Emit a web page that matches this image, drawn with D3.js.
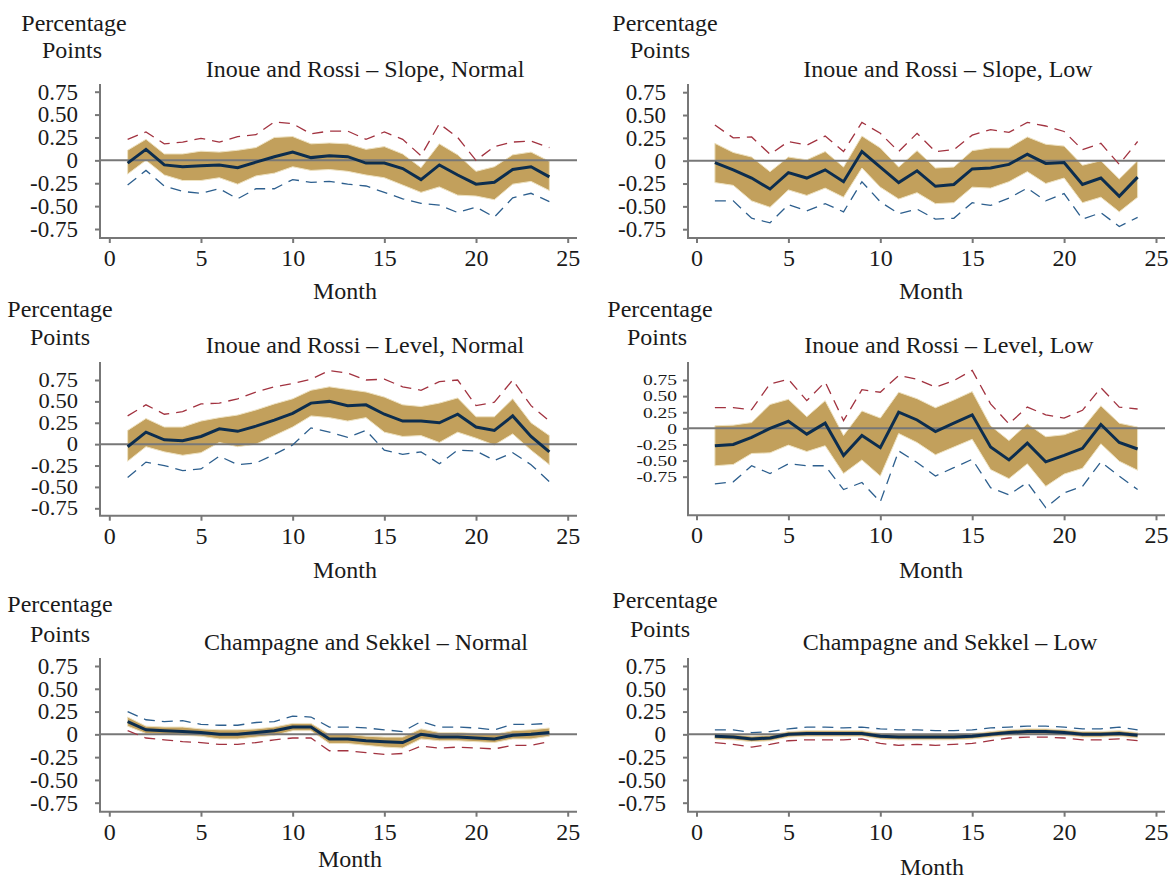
<!DOCTYPE html>
<html>
<head>
<meta charset="utf-8">
<script src="https://cdn.jsdelivr.net/npm/d3@7"></script>
<style>
  body { margin: 0; background: #fff; }
  text { font-family: "Liberation Serif", "Times New Roman", serif; fill: #1a1a1a; }
</style>
</head>
<body>
<div id="chart-area"></div>
<script>
// months on the x axis
var months = [1,2,3,4,5,6,7,8,9,10,11,12,13,14,15,16,17,18,19,20,21,22,23,24];

var xTicks = [0, 5, 10, 15, 20, 25];
var yTicks = [-0.75, -0.5, -0.25, 0, 0.25, 0.5, 0.75];
var yTickLabels = ["-0.75", "-0.50", "-0.25", "0", "0.25", "0.50", "0.75"];

var titles = [
  "Inoue and Rossi \u2013 Slope, Normal",
  "Inoue and Rossi \u2013 Slope, Low",
  "Inoue and Rossi \u2013 Level, Normal",
  "Inoue and Rossi \u2013 Level, Low",
  "Champagne and Sekkel \u2013 Normal",
  "Champagne and Sekkel \u2013 Low"
];

// Inoue and Rossi - Slope, Normal
var slopeNormalMid    = [-0.03,0.12,-0.05,-0.07,-0.06,-0.05,-0.08,-0.02,0.04,0.09,0.03,0.05,0.04,-0.03,-0.03,-0.09,-0.21,-0.05,-0.16,-0.26,-0.24,-0.10,-0.07,-0.18];
var slopeNormalBandHi = [0.11,0.23,0.07,0.07,0.10,0.09,0.11,0.14,0.25,0.26,0.18,0.19,0.18,0.12,0.15,0.07,-0.08,0.18,0.06,-0.12,-0.07,0.06,0.09,-0.01];
var slopeNormalBandLo = [-0.15,0.0,-0.16,-0.22,-0.22,-0.19,-0.26,-0.17,-0.14,-0.07,-0.11,-0.10,-0.12,-0.16,-0.19,-0.27,-0.35,-0.29,-0.38,-0.39,-0.43,-0.26,-0.23,-0.33];
var slopeNormalRed    = [0.23,0.31,0.18,0.20,0.24,0.20,0.26,0.28,0.42,0.40,0.29,0.32,0.32,0.23,0.31,0.23,0.05,0.40,0.25,0.0,0.15,0.20,0.21,0.14];
var slopeNormalBlue   = [-0.27,-0.11,-0.28,-0.34,-0.36,-0.31,-0.42,-0.31,-0.31,-0.21,-0.24,-0.23,-0.26,-0.28,-0.35,-0.42,-0.47,-0.49,-0.57,-0.51,-0.62,-0.41,-0.36,-0.45];

// Inoue and Rossi - Slope, Low
var slopeLowMid    = [-0.02,-0.10,-0.19,-0.31,-0.13,-0.19,-0.10,-0.23,0.10,-0.07,-0.24,-0.11,-0.28,-0.26,-0.09,-0.08,-0.04,0.07,-0.03,-0.02,-0.26,-0.19,-0.39,-0.18];
var slopeLowBandHi = [0.19,0.09,0.04,-0.12,0.04,0.01,0.10,-0.07,0.27,0.14,-0.07,0.11,-0.08,-0.07,0.11,0.14,0.14,0.26,0.18,0.16,-0.05,0.0,-0.20,0.0];
var slopeLowBandLo = [-0.24,-0.27,-0.44,-0.51,-0.32,-0.38,-0.30,-0.40,-0.08,-0.29,-0.42,-0.35,-0.47,-0.46,-0.29,-0.30,-0.23,-0.12,-0.25,-0.19,-0.46,-0.40,-0.56,-0.40];
var slopeLowRed    = [0.39,0.25,0.26,0.07,0.21,0.17,0.27,0.10,0.42,0.30,0.10,0.30,0.10,0.12,0.28,0.34,0.31,0.42,0.38,0.32,0.12,0.19,-0.04,0.21];
var slopeLowBlue   = [-0.44,-0.44,-0.63,-0.68,-0.48,-0.55,-0.47,-0.56,-0.23,-0.45,-0.58,-0.53,-0.64,-0.63,-0.46,-0.49,-0.41,-0.30,-0.44,-0.36,-0.64,-0.57,-0.72,-0.62];

// Inoue and Rossi - Level, Normal
var levelNormalMid    = [-0.03,0.14,0.05,0.04,0.09,0.18,0.15,0.21,0.28,0.36,0.48,0.50,0.45,0.46,0.35,0.27,0.27,0.25,0.35,0.20,0.16,0.33,0.09,-0.09];
var levelNormalBandHi = [0.16,0.30,0.20,0.20,0.27,0.31,0.34,0.40,0.47,0.53,0.63,0.67,0.64,0.61,0.55,0.46,0.44,0.48,0.54,0.32,0.32,0.53,0.25,0.10];
var levelNormalBandLo = [-0.20,-0.03,-0.09,-0.13,-0.10,0.02,-0.03,0.0,0.10,0.20,0.33,0.31,0.27,0.31,0.14,0.09,0.10,0.02,0.14,0.07,-0.01,0.12,-0.07,-0.24];
var levelNormalRed    = [0.33,0.46,0.35,0.38,0.47,0.48,0.53,0.61,0.67,0.71,0.76,0.86,0.83,0.75,0.76,0.67,0.63,0.73,0.75,0.45,0.49,0.75,0.45,0.27];
var levelNormalBlue   = [-0.39,-0.21,-0.25,-0.31,-0.29,-0.14,-0.24,-0.22,-0.12,-0.01,0.19,0.14,0.08,0.16,-0.07,-0.12,-0.09,-0.23,-0.07,-0.08,-0.19,-0.10,-0.24,-0.44];

// Inoue and Rossi - Level, Low
var levelLowMid    = [-0.27,-0.25,-0.14,0.0,0.11,-0.09,0.08,-0.42,-0.11,-0.30,0.25,0.13,-0.05,0.08,0.21,-0.29,-0.49,-0.23,-0.52,-0.42,-0.31,0.06,-0.22,-0.32];
var levelLowBandHi = [0.04,0.05,0.09,0.37,0.45,0.18,0.43,-0.11,0.27,0.16,0.56,0.46,0.32,0.44,0.57,0.04,-0.19,0.07,-0.13,-0.10,0.0,0.35,0.08,0.02];
var levelLowBandLo = [-0.58,-0.56,-0.39,-0.38,-0.26,-0.36,-0.27,-0.70,-0.49,-0.74,-0.08,-0.22,-0.41,-0.29,-0.17,-0.64,-0.78,-0.55,-0.90,-0.71,-0.62,-0.24,-0.51,-0.65];
var levelLowRed    = [0.32,0.32,0.29,0.69,0.76,0.43,0.72,0.12,0.60,0.56,0.82,0.76,0.64,0.74,0.90,0.38,0.07,0.33,0.21,0.16,0.28,0.63,0.33,0.30];
var levelLowBlue   = [-0.86,-0.83,-0.58,-0.70,-0.55,-0.58,-0.58,-0.95,-0.84,-1.14,-0.35,-0.53,-0.74,-0.61,-0.48,-0.92,-1.03,-0.84,-1.23,-1.00,-0.90,-0.52,-0.74,-0.95];

// Champagne and Sekkel - Normal
var csNormalMid    = [0.14,0.05,0.04,0.03,0.02,0.0,0.0,0.02,0.04,0.08,0.08,-0.05,-0.05,-0.07,-0.08,-0.09,0.0,-0.03,-0.03,-0.04,-0.05,-0.01,0.0,0.02];
var csNormalBandHi = [0.19,0.09,0.08,0.08,0.06,0.05,0.05,0.06,0.08,0.12,0.12,0.0,0.0,-0.02,-0.03,-0.03,0.06,0.02,0.02,0.01,0.0,0.04,0.05,0.07];
var csNormalBandLo = [0.09,0.01,0.0,-0.01,-0.02,-0.05,-0.05,-0.03,-0.01,0.04,0.04,-0.10,-0.10,-0.12,-0.14,-0.15,-0.05,-0.07,-0.07,-0.08,-0.09,-0.05,-0.05,-0.02];
var csNormalRed    = [0.04,-0.04,-0.06,-0.08,-0.09,-0.11,-0.11,-0.09,-0.06,-0.04,-0.04,-0.18,-0.18,-0.20,-0.22,-0.21,-0.13,-0.15,-0.14,-0.15,-0.16,-0.12,-0.12,-0.08];
var csNormalBlue   = [0.25,0.16,0.14,0.15,0.11,0.10,0.10,0.13,0.14,0.20,0.19,0.08,0.08,0.07,0.05,0.03,0.14,0.08,0.08,0.07,0.05,0.11,0.11,0.12];

// Champagne and Sekkel - Low
var csLowMid    = [-0.02,-0.03,-0.05,-0.04,0.0,0.01,0.01,0.01,0.01,-0.02,-0.03,-0.03,-0.03,-0.03,-0.02,0.0,0.02,0.03,0.03,0.02,0.0,0.0,0.01,-0.01];
var csLowBandHi = [0.01,0.0,-0.02,-0.01,0.03,0.04,0.04,0.04,0.04,0.01,0.0,0.0,0.0,0.0,0.01,0.03,0.05,0.06,0.06,0.05,0.03,0.03,0.04,0.02];
var csLowBandLo = [-0.05,-0.06,-0.08,-0.07,-0.03,-0.02,-0.02,-0.02,-0.02,-0.05,-0.06,-0.06,-0.06,-0.06,-0.05,-0.03,-0.01,0.0,0.0,-0.01,-0.03,-0.03,-0.02,-0.04];
var csLowRed    = [-0.09,-0.11,-0.14,-0.11,-0.07,-0.06,-0.06,-0.06,-0.05,-0.10,-0.12,-0.11,-0.12,-0.11,-0.10,-0.07,-0.04,-0.03,-0.03,-0.04,-0.06,-0.06,-0.05,-0.07];
var csLowBlue   = [0.05,0.05,0.02,0.03,0.06,0.08,0.08,0.07,0.08,0.06,0.05,0.05,0.04,0.04,0.05,0.07,0.08,0.09,0.09,0.08,0.06,0.06,0.08,0.05];

var series = [
  {mid: slopeNormalMid, hi: slopeNormalBandHi, lo: slopeNormalBandLo, red: slopeNormalRed, blue: slopeNormalBlue},
  {mid: slopeLowMid, hi: slopeLowBandHi, lo: slopeLowBandLo, red: slopeLowRed, blue: slopeLowBlue},
  {mid: levelNormalMid, hi: levelNormalBandHi, lo: levelNormalBandLo, red: levelNormalRed, blue: levelNormalBlue},
  {mid: levelLowMid, hi: levelLowBandHi, lo: levelLowBandLo, red: levelLowRed, blue: levelLowBlue},
  {mid: csNormalMid, hi: csNormalBandHi, lo: csNormalBandLo, red: csNormalRed, blue: csNormalBlue},
  {mid: csLowMid, hi: csLowBandHi, lo: csLowBandLo, red: csLowRed, blue: csLowBlue}
];

// pixel layout of each panel (graph combine, each panel a bit different)
var left = {axis: 100, x0: 109.3, x25: 567.7, end: 577};
var right = {axis: 688, x0: 696.5, x25: 1156, end: 1165};
var layout = [
  {col: left,  top: 84,  bottom: 238,   yHi: 91.7, yLo: 229,   tickFont: 23, tickPad: 17,
   pct: [74, 31],  pts: [72, 58],  title: [365, 77],  month: [345, 299]},
  {col: right, top: 84,  bottom: 238,   yHi: 92.2, yLo: 229.2, tickFont: 23, tickPad: 17,
   pct: [665, 31], pts: [660, 58], title: [948, 77],  month: [931, 299]},
  {col: left,  top: 362, bottom: 515.7, yHi: 380,  yLo: 508.3, tickFont: 20.5, tickPad: 17, stretch: 1.1,
   pct: [60, 317], pts: [60, 345], title: [365, 353], month: [345, 578]},
  {col: right, top: 362, bottom: 515.3, yHi: 380,  yLo: 476.7, tickFont: 15, tickPad: 6, stretch: 1.3,
   pct: [660, 317], pts: [657, 345], title: [949, 353], month: [931, 578]},
  {col: left,  top: 658, bottom: 811.7, yHi: 666,  yLo: 802.7, tickFont: 23, tickPad: 17,
   pct: [60, 612], pts: [60, 642], title: [366, 650], month: [350, 867]},
  {col: right, top: 658, bottom: 811.7, yHi: 666,  yLo: 802.7, tickFont: 23, tickPad: 17,
   pct: [665, 608], pts: [660, 637], title: [950, 650], month: [932, 875]}
];

var gold = "#c2a05c", navy = "#0c2d4e", red = "#a23340", blue = "#2d5f8e", grey = "#777777";
var labelFont = "24px";

var svg = d3.select("#chart-area")
  .append("svg")
    .attr("width", 1170)
    .attr("height", 879);

layout.forEach(function(L, i) {
  var s = series[i];
  var g = svg.append("g");

  var x = d3.scaleLinear().domain([0, 25]).range([L.col.x0, L.col.x25]);
  var y = d3.scaleLinear().domain([-0.75, 0.75]).range([L.yLo, L.yHi]);

  var rows = months.map(function(m, k) {
    return {m: m, mid: s.mid[k], hi: s.hi[k], lo: s.lo[k], red: s.red[k], blue: s.blue[k]};
  });

  // band
  var area = d3.area()
    .x(function(d) { return x(d.m); })
    .y0(function(d) { return y(d.lo); })
    .y1(function(d) { return y(d.hi); });

  g.append("path")
    .attr("d", area(rows))
    .attr("fill", gold)
    .attr("stroke", "#eee2c2")
    .attr("stroke-width", 1);

  // zero line
  g.append("line")
    .attr("x1", L.col.axis).attr("x2", L.col.end)
    .attr("y1", y(0)).attr("y2", y(0))
    .attr("stroke", grey)
    .attr("stroke-width", 2);

  function lineOf(key) {
    return d3.line()
      .x(function(d) { return x(d.m); })
      .y(function(d) { return y(d[key]); });
  }

  g.append("path")
    .attr("d", lineOf("red")(rows))
    .attr("fill", "none")
    .attr("stroke", red)
    .attr("stroke-width", 1.3)
    .attr("stroke-dasharray", "11,7");

  g.append("path")
    .attr("d", lineOf("blue")(rows))
    .attr("fill", "none")
    .attr("stroke", blue)
    .attr("stroke-width", 1.3)
    .attr("stroke-dasharray", "11,7");

  g.append("path")
    .attr("d", lineOf("mid")(rows))
    .attr("fill", "none")
    .attr("stroke", navy)
    .attr("stroke-width", 3);

  // axes
  var yAxis = g.append("g")
    .attr("transform", "translate(" + L.col.axis + ",0)")
    .call(d3.axisLeft(y)
      .tickValues(yTicks)
      .tickFormat(function(d, k) { return yTickLabels[k]; })
      .tickSize(5)
      .tickPadding(L.tickPad));

  var xAxis = g.append("g")
    .attr("transform", "translate(0," + L.bottom + ")")
    .call(d3.axisBottom(x)
      .tickValues(xTicks)
      .tickSize(5)
      .tickPadding(6));

  [yAxis, xAxis].forEach(function(ax) {
    ax.attr("font-family", '"Liberation Serif", serif');
    ax.select(".domain").remove();
    ax.selectAll("line").attr("stroke", grey).attr("stroke-width", 2);
    ax.selectAll("text").attr("fill", "#1a1a1a");
  });
  yAxis.attr("font-size", L.tickFont);
  xAxis.attr("font-size", 24);

  // panels with squashed tick labels: widen them back
  if (L.stretch) {
    yAxis.selectAll("text").each(function() {
      var w = this.getComputedTextLength();
      d3.select(this)
        .attr("textLength", w * L.stretch)
        .attr("lengthAdjust", "spacingAndGlyphs");
    });
  }

  g.append("line")
    .attr("x1", L.col.axis).attr("x2", L.col.axis)
    .attr("y1", L.top).attr("y2", L.bottom)
    .attr("stroke", grey).attr("stroke-width", 2);
  g.append("line")
    .attr("x1", L.col.axis - 1).attr("x2", L.col.end)
    .attr("y1", L.bottom).attr("y2", L.bottom)
    .attr("stroke", grey).attr("stroke-width", 2);

  // labels
  g.append("text")
    .attr("x", L.pct[0]).attr("y", L.pct[1])
    .attr("text-anchor", "middle")
    .attr("font-size", labelFont)
    .text("Percentage");
  g.append("text")
    .attr("x", L.pts[0]).attr("y", L.pts[1])
    .attr("text-anchor", "middle")
    .attr("font-size", labelFont)
    .text("Points");
  g.append("text")
    .attr("x", L.title[0]).attr("y", L.title[1])
    .attr("text-anchor", "middle")
    .attr("font-size", labelFont)
    .text(titles[i]);
  g.append("text")
    .attr("x", L.month[0]).attr("y", L.month[1])
    .attr("text-anchor", "middle")
    .attr("font-size", labelFont)
    .text("Month");
});
</script>
</body>
</html>
